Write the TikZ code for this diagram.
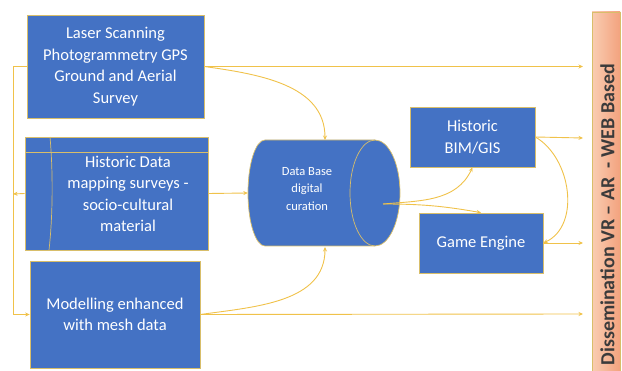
\documentclass[tikz,border=0pt]{standalone}
\usepackage{fontspec}
\setmainfont{Carlito}
\usetikzlibrary{arrows.meta}
\definecolor{boxblue}{HTML}{4472C4}
\definecolor{gold}{HTML}{F0C24A}
\definecolor{edge}{HTML}{D8BE6A}
\definecolor{barL}{HTML}{F9CDB2}
\definecolor{barR}{HTML}{F3A27E}
\definecolor{bartext}{HTML}{3B3B3B}
\tikzset{
  bluebox/.style={draw=edge, line width=0.7pt, fill=boxblue, text=white, align=center,
    inner sep=0pt, font=\fontsize{16.5}{21.5}\selectfont},
  conn/.style={draw=gold, line width=0.9pt, -{Stealth[length=4.5pt,width=4pt]}},
  edgeline/.style={draw=edge, line width=0.7pt},
}
\begin{document}
\begin{tikzpicture}[x=1pt,y=-1pt]
\useasboundingbox (0,0) rectangle (622,371);
% boxes
\node[bluebox, minimum width=177pt, minimum height=103pt] (b1) at (115.5,66.5)
  {Laser Scanning\\Photogrammetry GPS\\Ground and Aerial\\Survey};
\node[bluebox, minimum width=183pt, minimum height=113pt] (b2) at (116.5,193.5) {};
\draw[edgeline] (50,137) .. controls (53,170) and (53,215) .. (49,250);
\draw[edgeline] (25,152) -- (208,152);
\node[text=white, align=center, font=\fontsize{16.5}{21.5}\selectfont] (b2t) at (128,194)
  {Historic Data\\mapping surveys -\\socio-cultural\\material};
\node[bluebox, minimum width=170pt, minimum height=107pt] (b3) at (115,314.5)
  {Modelling enhanced\\with mesh data};
% cylinder
\node[minimum width=152pt, minimum height=106pt, inner sep=0pt] (cyl) at (324,193) {};
\path[edgeline, fill=boxblue] (265,140) arc[start angle=270, end angle=90, x radius=17, y radius=53]
  -- (375,246) arc[start angle=90, end angle=-90, x radius=25, y radius=53] -- cycle;
\draw[edgeline] (375,246) arc[start angle=90, end angle=270, x radius=25, y radius=53];
\node[text=white, align=center, font=\fontsize{12.5}{17.5}\selectfont] (cylt) at (307,189)
  {Data Base\\digital\\curation};
\coordinate (cin) at (383,204);
\node[bluebox, minimum width=125pt, minimum height=60pt] (bim) at (472.5,137) {Historic\\BIM/GIS};
\node[bluebox, minimum width=124pt, minimum height=60pt] (game) at (481,243) {Game Engine};
% bar
\node[draw=edge, line width=0.5pt, left color=barL, right color=barR, minimum width=28pt,
  minimum height=362pt, inner sep=0pt] (bar) at (606,193) {};
\node[rotate=90, text=bartext, font=\bfseries\fontsize{20}{22}\selectfont, anchor=west] (bart)
  at (607.5,369) {Dissemination VR – AR \ - WEB Based};
% targets at the bar
\coordinate (t1) at (583,66.5);
\coordinate (t2) at (583,138);
\coordinate (t3) at (583,243);
\coordinate (t4) at (583,314);
\coordinate (lv) at (13,194);
% connectors
\draw[conn] (b1.west) -- (13,66.5) |- (b3.west);
\draw[conn] (b2.west) -- (lv);
\draw[conn] (b1.east) -- (t1);
\draw[conn] (b1.east) to[out=-8,in=90] (325,140);
\draw[conn] (b2.east) -- (cyl.west);
\draw[conn] (b3.east) -- (t4);
\draw[conn] (b3.east) to[out=8,in=-90] (325,247);
\draw[conn] (cin) to[out=5,in=-115] (bim.south);
\draw[conn] (cin) to[out=0,in=170] (game.north);
\draw[conn] (bim.east) -- (t2);
\draw[conn] (bim.east) to[out=-30,in=25] (game.east);
\draw[conn] (game.east) -- (t3);
\end{tikzpicture}
\end{document}
